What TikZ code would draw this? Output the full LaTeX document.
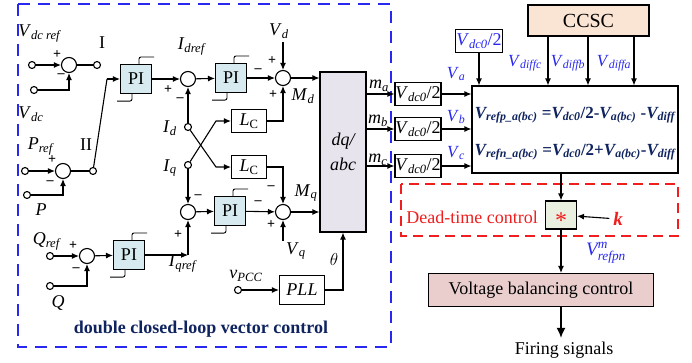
\documentclass[tikz,border=0pt]{standalone}
\usepackage{amsmath}
\usepackage{fontspec}
\setmainfont{Liberation Serif}
\usetikzlibrary{arrows.meta, positioning, calc}
\definecolor{ctrlblue}{RGB}{40,40,240}
\definecolor{navy}{RGB}{15,35,95}
\definecolor{piblue}{RGB}{214,234,240}
\definecolor{dqgray}{RGB}{232,228,238}
\definecolor{ccscpeach}{RGB}{250,228,212}
\definecolor{vbcpink}{RGB}{234,206,206}
\definecolor{mulgreen}{RGB}{234,240,224}
\definecolor{deadred}{RGB}{240,30,30}
\newcommand{\sig}[2]{\textit{#1}\textsubscript{\textit{#2}}}

\begin{document}
\begin{tikzpicture}[x=1pt,y=-1pt,>={Latex[length=7pt,width=6pt]},line width=1.1pt,
  font=\fontsize{18}{20}\selectfont,
  term/.style={circle,draw,fill=white,inner sep=0pt,minimum size=7pt},
  sumc/.style={circle,draw,fill=white,inner sep=0pt,minimum size=15pt},
  pibox/.style={draw,fill=piblue,minimum width=31pt,minimum height=29pt,inner sep=0pt},
  blk/.style={draw,fill=white,inner sep=0pt},
  sgn/.style={font=\bfseries\fontsize{14}{14}\selectfont,inner sep=0pt},
  bluelab/.style={text=ctrlblue,font=\fontsize{17}{18}\selectfont,inner sep=0pt}]
  \useasboundingbox (0,0) rectangle (692,362);
  % control frame
  \draw[ctrlblue,line width=1.6pt,dash pattern=on 12pt off 8pt] (18,4) rectangle (391,347);
  \node[text=navy,font=\bfseries\fontsize{18}{20}\selectfont] (title) at (201,329) {double closed-loop vector control};

  % outer loops
  \node[term] (vdcr) at (32,65) {};
  \node[sumc] (sdc) at (69,65) {};
  \node[term] (tI) at (97,65) {};
  \node[term] (vdc) at (34,90) {};
  \node[term] (pref) at (25,171) {};
  \node[sumc] (sp) at (63,171) {};
  \node[term] (tII) at (93,171) {};
  \node[term] (pm) at (27,195) {};
  \node[term] (qref) at (50,256) {};
  \node[sumc] (sq) at (87,256) {};
  \node[term] (qm) at (50,286) {};
  \node[pibox] (pi1) at (136,79) {PI};
  \node[pibox] (piq) at (129,255) {PI};
  \coordinate (sw) at (107,79);
  \draw[->] (vdcr) -- (sdc);
  \draw (sdc) -- (tI);
  \draw[->] (vdc) -| (sdc);
  \draw[->] (pref) -- (sp);
  \draw (sp) -- (tII);
  \draw[->] (pm) -| (sp);
  \draw (tII) -- (sw);
  \draw[->] (sw) -- (pi1);
  \draw[->] (qref) -- (sq);
  \draw[->] (qm) -| (sq);
  \draw[->] (sq) -- (piq);
  % labels
  \node (lvdcr) at (40,33) {\sig{V}{dc ref}};
  \node (lI) at (102,43) {I};
  \node (lvdc) at (31,114) {\sig{V}{dc}};
  \node (lpref) at (41,146) {\sig{P}{ref}};
  \node (lII) at (86,145) {II};
  \node (lp) at (41,210) {\textit{P}};
  \node (lqref) at (47,241) {\sig{Q}{ref}};
  \node (lq) at (58,303) {\textit{Q}};

  % inner current loops
  \node[sumc] (sid) at (188,79) {};
  \node[pibox] (pi2) at (231,78) {PI};
  \node[sumc] (smd) at (283,78) {};
  \node[term] (id) at (188,127) {};
  \node[term] (iq) at (188,165) {};
  \node[blk,minimum width=35pt,minimum height=23pt] (lc1) at (249,121) {\sig{L}{\upshape C}};
  \node[blk,minimum width=35pt,minimum height=23pt] (lc2) at (249,167) {\sig{L}{\upshape C}};
  \node[sumc] (siq) at (188,212) {};
  \node[pibox] (pi3) at (230,211) {PI};
  \node[sumc] (smq) at (283,212) {};
  \node[draw,fill=dqgray,minimum width=46pt,minimum height=160pt,inner sep=0pt] (dq) at (343,152) {};
  \node[align=center,font=\itshape\fontsize{18}{20}\selectfont] (dqtxt) at (dq) {dq/\\[5pt]abc};
  \coordinate (iqr) at (188,255);
  \coordinate (vd) at (283,42);
  \coordinate (vq) at (283,241);
  \coordinate (cr1) at (216,121);
  \coordinate (cr2) at (216,167);
  \draw[->] (pi1) -- (sid);
  \draw[->] (sid) -- (pi2);
  \draw[->] (pi2) -- (smd);
  \draw[->] (vd) -- (smd);
  \draw[->] (smd) -- (smd -| dq.west);
  \draw[->] (id) -- (sid);
  \draw[->] (lc1) -| (smd);
  \draw[->] (id) -- (cr2) -- (lc2);
  \draw[->] (iq) -- (cr1) -- (lc1);
  \draw[->] (iq) -- (siq);
  \draw[->] (lc2) -| (smq);
  \draw[->] (siq) -- (pi3);
  \draw[->] (pi3) -- (smq);
  \draw[->] (vq) -- (smq);
  \draw[->] (smq) -- (smq -| dq.west);
  \draw[->] (piq) -- (iqr);
  \draw[->] (iqr) -- (siq);
  % PLL
  \node[blk,minimum width=45pt,minimum height=29pt] (pll) at (302,290) {\textit{PLL}};
  \node[term] (vpcc) at (238,290) {};
  \draw[->] (vpcc) -- (pll);
  \draw[->] (pll) -| (dq);
  % labels
  \node (lidref) at (192,46) {\sig{I}{dref}};
  \node (lvd) at (279,31) {\sig{V}{d}};
  \node (lmd) at (303,96) {\sig{M}{d}};
  \node (lid) at (170,128) {\sig{I}{d}};
  \node (liq) at (170,168) {\sig{I}{q}};
  \node (lmq) at (306,193) {\sig{M}{q}};
  \node (lvq) at (296,251) {\sig{V}{q}};
  \node (liqref) at (183,263) {\sig{I}{qref}};
  \node (lth) at (334,259) {$\theta$};
  \node (lvpcc) at (246,276) {\sig{v}{PCC}};

  % limiter marks on the PI blocks
  \foreach \p in {pi1,pi2,pi3,piq}{
    \draw[line width=0.9pt,rounded corners=2pt] ($(\p.north)+(3,0)$) -- ++(0,-7) -- ++(15,0);
    \draw[line width=0.9pt,rounded corners=2pt] ($(\p.south)+(-4,0)$) -- ++(0,7) -- ++(-15,0);
  }
  % signs
  \foreach \x/\y/\s in {57/55/+,61/76/--,52/160/+,50/183/--,168/90/+,180/100/--,
      258/71/--,272/61/+,273/95/+,198/197/--,178/235/+,258/203/--,271/188/--,271/225/+,
      73/246/+,76/270/--}
    \node[sgn] at (\x,\y) {\s};

  % modulation side
  \node[blk,minimum width=46pt,minimum height=23pt] (ha) at (418,94) {\sig{V}{dc0}/2};
  \node[blk,minimum width=46pt,minimum height=23pt] (hb) at (418,129) {\sig{V}{dc0}/2};
  \node[blk,minimum width=46pt,minimum height=23pt] (hc) at (418,166) {\sig{V}{dc0}/2};
  \node[blk,minimum width=47pt,minimum height=23pt,text=ctrlblue] (half) at (479,41) {\sig{V}{dc0}/2};
  \node[blk,minimum width=206pt,minimum height=87pt] (ref) at (575,129.5) {};
  \node[text=navy,font=\bfseries\itshape\fontsize{17}{18}\selectfont] (eqp) at (575,115)
    {V\textsubscript{refp\_a(bc)} {\upshape=}V\textsubscript{dc0}{\upshape/2-}V\textsubscript{a(bc)} {\upshape-}V\textsubscript{diff}};
  \node[text=navy,font=\bfseries\itshape\fontsize{17}{18}\selectfont] (eqn) at (575,152)
    {V\textsubscript{refn\_a(bc)} {\upshape=}V\textsubscript{dc0}{\upshape/2+}V\textsubscript{a(bc)}{\upshape-}V\textsubscript{diff}};
  \node[draw,fill=ccscpeach,minimum width=121pt,minimum height=31pt,font=\fontsize{20}{22}\selectfont] (ccsc) at (588.5,20.5) {CCSC};
  \foreach \x/\p in {548/c,588/b,634/a}{
    \coordinate (d\p) at (\x,0);
    \draw[->] (ccsc.south -| d\p) -- (ref.north -| d\p);
  }
  \draw[->] (half) -- (half |- ref.north);
  \draw[->] (dq.east |- ha) -- (ha);
  \draw[->] (dq.east |- hb) -- (hb);
  \draw[->] (dq.east |- hc) -- (hc);
  \draw[->] (ha) -- (ha -| ref.west);
  \draw[->] (hb) -- (hb -| ref.west);
  \draw[->] (hc) -- (hc -| ref.west);
  \node (lma) at (379,86) {\sig{m}{a}};
  \node (lmb) at (378,121) {\sig{m}{b}};
  \node (lmc) at (378,160) {\sig{m}{c}};
  \node[bluelab] (lva) at (456,74) {\sig{V}{a}};
  \node[bluelab] (lvb) at (456,117) {\sig{V}{b}};
  \node[bluelab] (lvc) at (456,153) {\sig{V}{c}};
  \node[bluelab] (ldc) at (525,63) {\sig{V}{diffc}};
  \node[bluelab] (ldb) at (568,63) {\sig{V}{diffb}};
  \node[bluelab] (lda) at (614,63) {\sig{V}{diffa}};

  % dead-time and balancing
  \draw[deadred,line width=1.3pt,dash pattern=on 10pt off 6pt] (401,184) rectangle (678,236);
  \node[draw,fill=mulgreen,minimum width=31pt,minimum height=28pt,inner sep=0pt] (mul) at (561,215) {};
  \node[text=deadred,font=\fontsize{24}{24}\selectfont,inner sep=0pt] (star) at ($(mul)+(0,6)$) {*};
  \node[text=deadred] (dtc) at (472,217) {Dead-time control};
  \node[text=deadred,font=\bfseries\itshape\fontsize{19}{20}\selectfont] (k) at (618,219) {k};
  \draw[->] (k) -- (mul);
  \draw[->] (ref.south -| mul) -- (mul);
  \node[draw,fill=vbcpink,minimum width=225pt,minimum height=33pt] (vbc) at (541,290) {Voltage balancing control};
  \draw[->] (mul) -- (mul |- vbc.north);
  \node[bluelab,font=\fontsize{19}{20}\selectfont] (vref) at (606,253) {$\text{\itshape V}^{\text{\itshape m}}_{\text{\itshape refpn}}$};
  \node (fire) at (564,350) {Firing signals};
  \draw[->,line width=1.6pt,>={Latex[length=10pt,width=9pt]}] (vbc.south -| mul) -- (fire.north -| mul);
\end{tikzpicture}
\end{document}
